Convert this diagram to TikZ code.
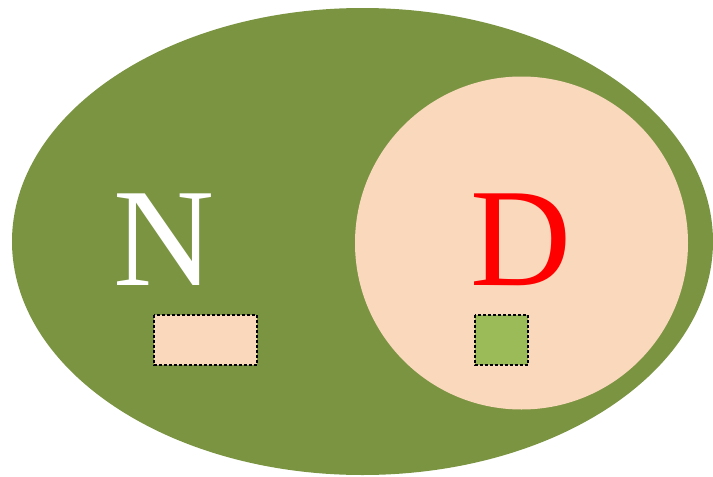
\documentclass[tikz,border=0pt]{standalone}
\usepackage{fontspec}
\setmainfont{Liberation Serif}
\definecolor{outergreen}{HTML}{7A9442}
\definecolor{peach}{HTML}{FAD8BC}
\definecolor{lightgreen}{HTML}{9BBB59}
\tikzset{
  dotbox/.style={draw=black, line width=2pt, dash pattern=on 3pt off 2pt},
  bigletter/.style={font=\fontsize{140}{140}\selectfont, anchor=base, inner sep=0pt}
}
\begin{document}
\begin{tikzpicture}[x=1pt,y=-1pt]
\useasboundingbox (0,0) rectangle (713,477);
\fill[outergreen] (362.5,241.5) ellipse [x radius=350.5, y radius=233.5];
\fill[peach] (521.5,243) circle [radius=166.5];
\node[bigletter, text=white] (N) at (164,285) {N};
\node[bigletter, text=red] (D) at (521,285) {D};
\draw[dotbox, fill=peach] (154,314.5) rectangle (256.5,365) node[coordinate] (r1) {};
\draw[dotbox, fill=lightgreen] (475,314.5) rectangle (527.5,365) node[coordinate] (r2) {};
\end{tikzpicture}
\end{document}
